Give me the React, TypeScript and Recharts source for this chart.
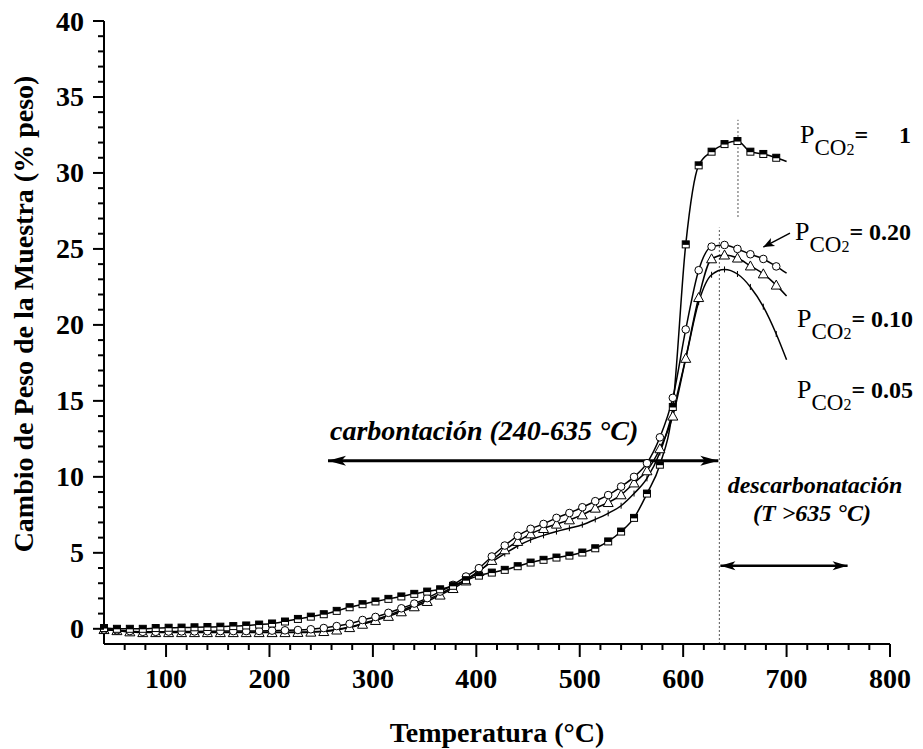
import React from "react";
import { LineChart, Line, XAxis, YAxis, ReferenceLine } from "recharts";

// temperatura (°C); the last point closes the curve without a marker
const temperatures = [
  40, 52.5, 65, 77.5, 90, 102.5, 115, 127.5, 140, 152.5, 165, 177.5, 190, 202.5, 215, 227.5, 240, 252.5,
  265, 277.5, 290, 302.5, 315, 327.5, 340, 352.5, 365, 377.5, 390, 402.5, 415, 427.5, 440, 452.5, 465,
  477.5, 490, 502.5, 515, 527.5, 540, 552.5, 565, 577.5, 590, 602.5, 615, 627.5, 640, 652.5, 665, 677.5,
  690, 700,
];

const pco2One = [
  0.05, 0.0, 0.0, 0.0, 0.05, 0.07, 0.08, 0.1, 0.12, 0.14, 0.18, 0.22, 0.28, 0.35, 0.48, 0.65, 0.8, 0.96,
  1.18, 1.42, 1.62, 1.8, 1.97, 2.13, 2.3, 2.45, 2.6, 2.83, 3.2, 3.5, 3.7, 3.88, 4.12, 4.36, 4.54, 4.69,
  4.82, 5.02, 5.3, 5.75, 6.4, 7.3, 8.9, 10.8, 14.6, 25.3, 30.5, 31.4, 31.9, 32.1, 31.4, 31.25, 31.0, 30.75,
];

const pco2020 = [
  -0.05, -0.1, -0.15, -0.2, -0.2, -0.18, -0.17, -0.17, -0.16, -0.15, -0.15, -0.15, -0.14, -0.12, -0.1,
  -0.08, -0.03, 0.05, 0.18, 0.33, 0.58, 0.78, 1.05, 1.35, 1.66, 2.02, 2.45, 2.89, 3.44, 3.99, 4.76, 5.48,
  6.12, 6.58, 6.9, 7.3, 7.62, 8.0, 8.4, 8.8, 9.36, 10.0, 10.9, 12.6, 15.2, 19.7, 23.6, 25.15, 25.26, 25.0,
  24.65, 24.34, 23.85, 23.4,
];

const pco2010 = [
  -0.05, -0.12, -0.2, -0.25, -0.25, -0.25, -0.25, -0.25, -0.25, -0.25, -0.25, -0.25, -0.25, -0.25, -0.25,
  -0.24, -0.22, -0.18, -0.08, 0.08, 0.3, 0.55, 0.82, 1.12, 1.45, 1.8, 2.22, 2.65, 3.15, 3.77, 4.5, 5.2,
  5.75, 6.25, 6.6, 6.89, 7.17, 7.5, 7.94, 8.31, 8.82, 9.6, 10.4, 11.85, 14.0, 17.8, 21.8, 24.35, 24.6, 24.4,
  23.88, 23.36, 22.62, 21.9,
];

const pco2005 = [
  -0.05, -0.12, -0.2, -0.22, -0.22, -0.22, -0.22, -0.22, -0.22, -0.22, -0.22, -0.22, -0.22, -0.22, -0.22,
  -0.21, -0.19, -0.14, -0.04, 0.12, 0.35, 0.6, 0.9, 1.2, 1.55, 1.9, 2.3, 2.75, 3.25, 3.8, 4.4, 4.95, 5.45,
  5.85, 6.15, 6.4, 6.62, 6.85, 7.2, 7.6, 8.1, 8.9, 9.9, 11.6, 14.3, 17.8, 21.5, 23.3, 23.65, 23.35, 22.5,
  21.2, 19.4, 17.7,
];

const xTicks = Array.from({ length: 39 }, (_, i) => 40 + i * 20);
const yTicks = Array.from({ length: 42 }, (_, i) => i - 1);

const data = temperatures.map((t, i) => ({
  t,
  p1: pco2One[i],
  p20: pco2020[i],
  p10: pco2010[i],
  p05: pco2005[i],
}));

const FONT = '"Liberation Serif", "Times New Roman", serif';
const LAST_T = 700;

const XTick = (props: any) => {
  const { x, y, payload } = props;
  const v = payload.value;
  if (v === 40) return <g />;
  const major = v % 100 === 0;
  return (
    <g>
      <line x1={x} y1={y} x2={x} y2={y + (major ? 13 : 6)} stroke="#000" strokeWidth={2} />
      {major && (
        <text x={x} y={y + 44} textAnchor="middle" fontFamily={FONT} fontWeight="bold" fontSize={28} fill="#000">
          {v}
        </text>
      )}
    </g>
  );
};

const YTick = (props: any) => {
  const { x, y, payload } = props;
  const v = payload.value;
  if (v === -1) return <g />;
  const major = v % 5 === 0;
  return (
    <g>
      <line x1={x} y1={y} x2={x - (major ? 11 : 6)} y2={y} stroke="#000" strokeWidth={2} />
      {major && (
        <text x={x - 20} y={y + 9.5} textAnchor="end" fontFamily={FONT} fontWeight="bold" fontSize={28} fill="#000">
          {v}
        </text>
      )}
    </g>
  );
};

const makeDot = (kind: string) => (props: any) => {
  const { cx, cy, payload, index } = props;
  const key = `${kind}-${index}`;
  if (cx == null || cy == null || payload.t === LAST_T) return <g key={key} />;
  if (kind === "square") {
    return (
      <g key={key}>
        <rect x={cx - 3.5} y={cy - 3.5} width={7} height={7} fill="#fff" stroke="#000" strokeWidth={1} />
        <rect x={cx - 3.5} y={cy - 3.5} width={7} height={4} fill="#000" />
      </g>
    );
  }
  if (kind === "circle") {
    return <circle key={key} cx={cx} cy={cy} r={3.8} fill="#fff" stroke="#000" strokeWidth={1} />;
  }
  if (kind === "triangle") {
    return (
      <polygon
        key={key}
        points={`${cx},${cy - 5} ${cx - 5},${cy + 4} ${cx + 5},${cy + 4}`}
        fill="#fff"
        stroke="#000"
        strokeWidth={1}
      />
    );
  }
  return <line key={key} x1={cx} y1={cy - 3} x2={cx} y2={cy + 3} stroke="#000" strokeWidth={1} />;
};

const head = (x: number, y: number, ux: number, uy: number, len: number, half: number) => {
  const bx = x - ux * len;
  const by = y - uy * len;
  const nx = -uy;
  const ny = ux;
  const mx = x - ux * len * 0.75;
  const my = y - uy * len * 0.75;
  return `${x},${y} ${bx + nx * half},${by + ny * half} ${mx},${my} ${bx - nx * half},${by - ny * half}`;
};

const arrowShape = (width: number, len: number, half: number, both: boolean) => (props: any) => {
  const { x1, y1, x2, y2 } = props;
  const d = Math.hypot(x2 - x1, y2 - y1) || 1;
  const ux = (x2 - x1) / d;
  const uy = (y2 - y1) / d;
  return (
    <g>
      <line x1={x1} y1={y1} x2={x2} y2={y2} stroke="#000" strokeWidth={width} />
      <polygon points={head(x2, y2, ux, uy, len, half)} fill="#000" />
      {both && <polygon points={head(x1, y1, -ux, -uy, len, half)} fill="#000" />}
    </g>
  );
};

const PLabel = ({ x, y, value, gapTo }: { x: number; y: number; value: string; gapTo?: number }) => (
  <text x={x} y={y} fontFamily={FONT} fill="#000">
    <tspan fontSize={26}>P</tspan>
    <tspan fontSize={23} dy={12}>CO</tspan>
    <tspan fontSize={16}>2</tspan>
    <tspan fontSize={24} fontWeight="bold" dy={-12}>
      {gapTo ? "=" : `= ${value}`}
    </tspan>
    {gapTo ? (
      <tspan fontSize={24} fontWeight="bold" x={gapTo}>
        {value}
      </tspan>
    ) : null}
  </text>
);

export default function App() {
  return (
    <div style={{ position: "absolute", left: 0, top: 0, width: 923, height: 749, background: "#fff" }}>
      <LineChart width={923} height={749} data={data} margin={{ top: 21, right: 33, bottom: 0, left: 0 }}>
        <XAxis
          dataKey="t"
          type="number"
          domain={[40, 800]}
          ticks={xTicks}
          interval={0}
          height={105}
          tickSize={0}
          tickMargin={0}
          tickLine={false}
          tick={XTick}
          axisLine={{ stroke: "#000", strokeWidth: 2 }}
        />
        <YAxis
          type="number"
          domain={[-1, 40]}
          ticks={yTicks}
          interval={0}
          width={104}
          tickSize={0}
          tickMargin={0}
          tickLine={false}
          tick={YTick}
          axisLine={{ stroke: "#000", strokeWidth: 2 }}
        />
        <ReferenceLine
          segment={[{ x: 635, y: -1 }, { x: 635, y: 26.4 }]}
          stroke="#555"
          strokeWidth={1}
          strokeDasharray="2 2"
        />
        <ReferenceLine
          segment={[{ x: 653, y: 27.1 }, { x: 653, y: 33.5 }]}
          stroke="#555"
          strokeWidth={1}
          strokeDasharray="2 2"
        />
        <Line type="monotone" dataKey="p05" stroke="#000" strokeWidth={1.5} dot={makeDot("tick")} activeDot={false} isAnimationActive={false} />
        <Line type="monotone" dataKey="p10" stroke="#000" strokeWidth={1.5} dot={makeDot("triangle")} activeDot={false} isAnimationActive={false} />
        <Line type="monotone" dataKey="p20" stroke="#000" strokeWidth={1.5} dot={makeDot("circle")} activeDot={false} isAnimationActive={false} />
        <Line type="monotone" dataKey="p1" stroke="#000" strokeWidth={1.5} dot={makeDot("square")} activeDot={false} isAnimationActive={false} />
        <ReferenceLine
          segment={[{ x: 256.6, y: 11.06 }, { x: 634, y: 11.06 }]}
          shape={arrowShape(3, 18, 5, true)}
        />
        <ReferenceLine
          segment={[{ x: 636, y: 4.15 }, { x: 759, y: 4.15 }]}
          shape={arrowShape(2.5, 15, 4.5, true)}
        />
        <ReferenceLine
          segment={[{ x: 703.3, y: 26.04 }, { x: 677.5, y: 25.12 }]}
          shape={arrowShape(1.5, 11, 4.5, false)}
        />
      </LineChart>
      <svg
        width={923}
        height={749}
        style={{ position: "absolute", left: 0, top: 0, pointerEvents: "none" }}
      >
        <text
          transform="translate(33,314) rotate(-90)"
          textAnchor="middle"
          fontFamily={FONT}
          fontWeight="bold"
          fontSize={28}
          fill="#000"
        >
          Cambio de Peso de la Muestra (% peso)
        </text>
        <text x={497} y={742} textAnchor="middle" fontFamily={FONT} fontWeight="bold" fontSize={28} fill="#000">
          Temperatura (°C)
        </text>
        <text x={330} y={440} fontFamily={FONT} fontWeight="bold" fontStyle="italic" fontSize={28} fill="#000">
          carbontación (240-635 °C)
        </text>
        <text x={815} y={493} textAnchor="middle" fontFamily={FONT} fontWeight="bold" fontStyle="italic" fontSize={24} fill="#000">
          descarbonatación
        </text>
        <text x={812} y={521} textAnchor="middle" fontFamily={FONT} fontWeight="bold" fontStyle="italic" fontSize={24} fill="#000">
          (T &gt;635 °C)
        </text>
        <PLabel x={800} y={143} value="1" gapTo={899} />
        <PLabel x={795} y={240} value="0.20" />
        <PLabel x={797} y={327} value="0.10" />
        <PLabel x={797} y={398} value="0.05" />
      </svg>
    </div>
  );
}
